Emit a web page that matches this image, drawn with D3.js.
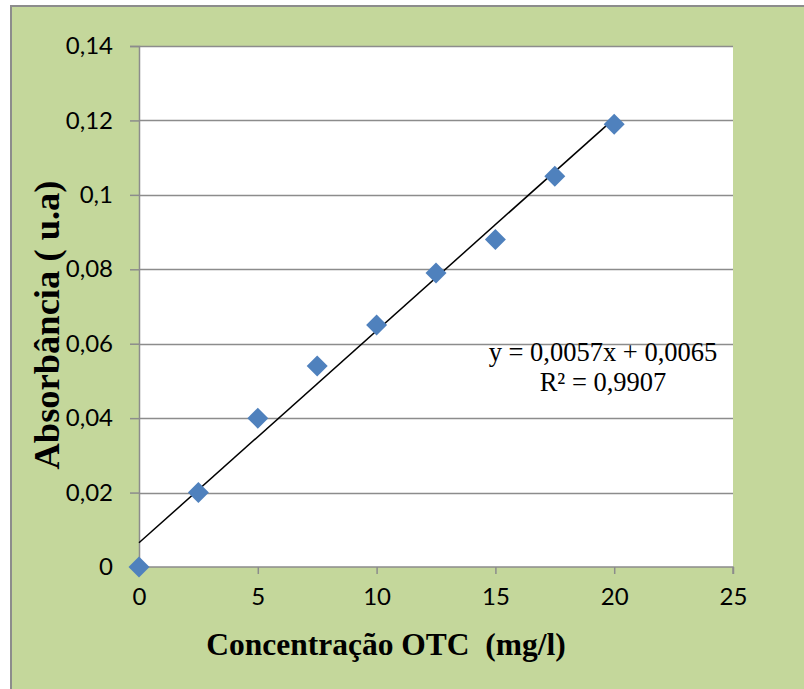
<!DOCTYPE html>
<html>
<head>
<meta charset="utf-8">
<script src="https://cdn.jsdelivr.net/npm/d3@7"></script>
<style>
  body { margin: 0; background: #fff; }
  svg { display: block; }
</style>
</head>
<body>
<div id="chart"></div>
<script>
// data
const concentration = [0, 2.5, 5, 7.5, 10, 12.5, 15, 17.5, 20];
const absorbance = [0, 0.02, 0.04, 0.054, 0.065, 0.079, 0.088, 0.105, 0.119];
const xTicks = [0, 5, 10, 15, 20, 25];
const yTicks = [0, 0.02, 0.04, 0.06, 0.08, 0.1, 0.12, 0.14];
const slope = 0.0057, intercept = 0.0065;
const equationLines = ["y = 0,0057x + 0,0065", "R² = 0,9907"];

const width = 804, height = 689;
const margin = { top: 46, right: 71, bottom: 122, left: 139 };

const svg = d3.select("#chart").append("svg")
    .attr("width", width)
    .attr("height", height);

// outer chart area (cropped at right and bottom)
svg.append("rect")
    .attr("x", 11).attr("y", 6)
    .attr("width", width).attr("height", height)
    .attr("fill", "#c4d79b")
    .attr("stroke", "#8c8c8c")
    .attr("stroke-width", 2);

const x = d3.scaleLinear().domain([0, 25]).range([margin.left, width - margin.right]);
const y = d3.scaleLinear().domain([0, 0.14]).range([height - margin.bottom, margin.top]);

// plot area
svg.append("rect")
    .attr("x", x(0)).attr("y", y(0.14))
    .attr("width", x(25) - x(0)).attr("height", y(0) - y(0.14))
    .attr("fill", "#fff");

const fmt = d => d3.format("")(d).replace(".", ",");

// gridlines
svg.append("g")
    .selectAll("line")
    .data(yTicks.filter(d => d > 0))
    .join("line")
    .attr("x1", x(0)).attr("x2", x(25))
    .attr("y1", d => Math.round(y(d)) + 0.5)
    .attr("y2", d => Math.round(y(d)) + 0.5)
    .attr("stroke", "#8c8c8c")
    .attr("stroke-width", 1.5);

// y axis
const yAxis = svg.append("g")
    .attr("transform", `translate(${x(0)},0)`)
    .call(d3.axisLeft(y).tickValues(yTicks).tickSize(9).tickPadding(17).tickFormat(fmt));

// x axis
const xAxis = svg.append("g")
    .attr("transform", `translate(0,${y(0)})`)
    .call(d3.axisBottom(x).tickValues(xTicks).tickSize(7).tickPadding(14).tickFormat(fmt));

[yAxis, xAxis].forEach(a => {
    a.selectAll(".domain, .tick line").attr("stroke", "#8c8c8c").attr("stroke-width", 1.5);
    a.selectAll(".tick text")
        .attr("fill", "#000")
        .style("font-family", "Lato, 'Open Sans', sans-serif")
        .style("font-size", "24px");
});
xAxis.select(".domain").attr("d", `M${x(0)},0H${x(25)}V7`);

// trendline
svg.append("line")
    .attr("x1", x(0)).attr("y1", y(intercept))
    .attr("x2", x(20)).attr("y2", y(slope * 20 + intercept))
    .attr("stroke", "#000")
    .attr("stroke-width", 1.5);

// markers
svg.append("g")
    .selectAll("path")
    .data(concentration.map((c, i) => [c, absorbance[i]]))
    .join("path")
    .attr("d", d3.symbol(d3.symbolSquare, 220)())
    .attr("transform", d => `translate(${x(d[0])},${y(d[1])}) rotate(45)`)
    .attr("fill", "#4f81bd");

// equation
const eq = svg.append("text")
    .attr("text-anchor", "middle")
    .style("font-family", "'Liberation Serif', 'Times New Roman', serif")
    .style("font-size", "26.5px")
    .attr("fill", "#000");
eq.selectAll("tspan")
    .data(equationLines)
    .join("tspan")
    .attr("x", 603)
    .attr("y", (d, i) => 361 + i * 30)
    .text(d => d);

// axis titles
svg.append("text")
    .attr("x", 386)
    .attr("y", 655)
    .attr("text-anchor", "middle")
    .style("font-family", "'Liberation Serif', 'Times New Roman', serif")
    .style("font-size", "31.5px")
    .style("font-weight", "bold")
    .style("white-space", "pre")
    .text("Concentração OTC  (mg/l)");

svg.append("text")
    .attr("transform", `translate(59,${325}) rotate(-90)`)
    .attr("text-anchor", "middle")
    .style("font-family", "'Liberation Serif', 'Times New Roman', serif")
    .style("font-size", "36.5px")
    .style("font-weight", "bold")
    .text("Absorbância ( u.a)");
</script>
</body>
</html>
